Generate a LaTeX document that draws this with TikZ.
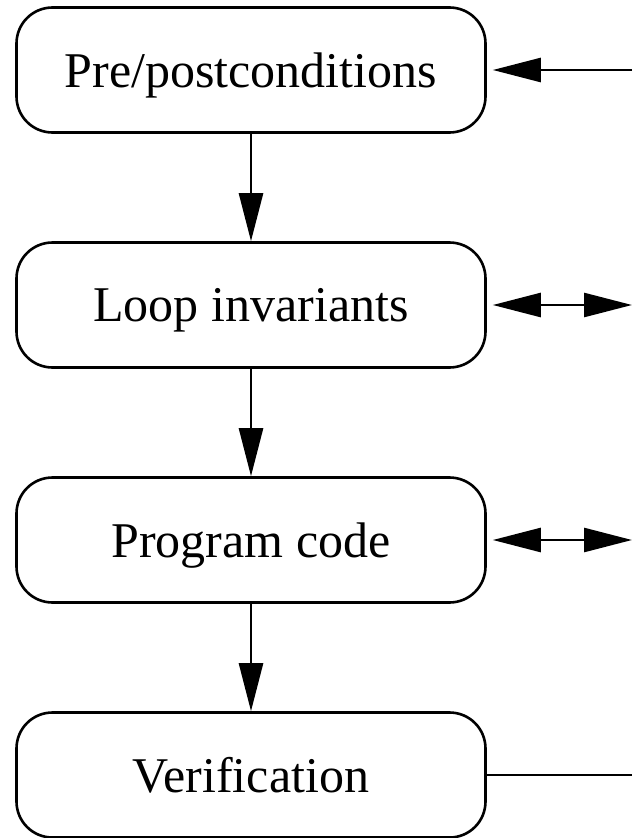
\documentclass[tikz,border=0pt]{standalone}
\usepackage{fontspec}
\setmainfont{Liberation Serif}
\usetikzlibrary{arrows.meta}
\begin{document}
\begin{tikzpicture}[x=1pt,y=-1pt,
  stage/.style={draw, line width=2.6pt, rounded corners=36pt, minimum width=469pt, minimum height=125pt, font=\fontsize{50}{58}\selectfont, inner sep=0pt, text depth=0pt},
  conn/.style={line width=2.6pt, -{Triangle[length=48pt,width=24pt]}},
  biconn/.style={line width=2.6pt, {Triangle[length=48pt,width=24pt]}-{Triangle[length=48pt,width=24pt]}}]
\useasboundingbox (0,0) rectangle (632,838);
\node[stage] (a) at (251,70) {Pre/postconditions};
\node[stage] (b) at (251,305) {Loop invariants};
\node[stage] (c) at (251,540) {Program code};
\node[stage] (d) at (251,775) {Verification};
\coordinate (ra) at (632,70);
\coordinate (rb) at (632,305);
\coordinate (rc) at (632,540);
\coordinate (rd) at (632,775);
\draw[conn] (a.south) -- (b.north);
\draw[conn] (b.south) -- (c.north);
\draw[conn] (c.south) -- (d.north);
\draw[conn] (ra) -- ([xshift=6pt]a.east);
\draw[biconn] ([xshift=6pt]b.east) -- (rb);
\draw[biconn] ([xshift=6pt]c.east) -- (rc);
\draw[line width=2.6pt] (d.east) -- (rd);
\end{tikzpicture}
\end{document}
